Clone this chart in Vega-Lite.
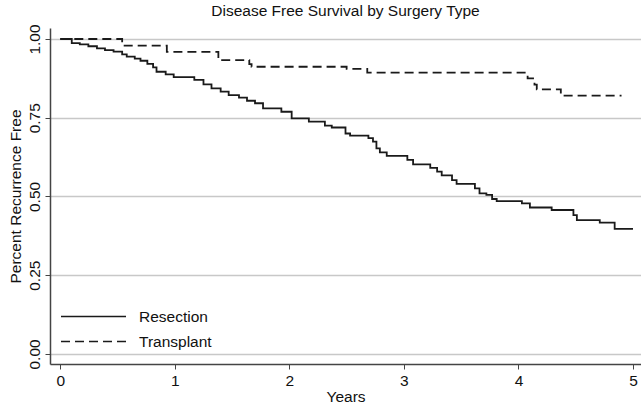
{
  "$schema": "https://vega.github.io/schema/vega-lite/v6.json",
  "width": 591,
  "height": 336,
  "autosize": {"type": "none"},
  "padding": {"left": 50, "top": 28, "right": 0, "bottom": 44},
  "background": "white",
  "title": {
    "text": "Disease Free Survival by Surgery Type",
    "font": "Liberation Sans",
    "fontSize": 15.5,
    "fontWeight": "normal",
    "color": "#111",
    "anchor": "middle",
    "offset": 4
  },
  "config": {
    "view": {"stroke": null},
    "font": "Liberation Sans"
  },
  "data": {
    "values": [
      {"series": "Resection", "t": 0, "s": 1.0},
      {"series": "Resection", "t": 0.10, "s": 0.987},
      {"series": "Resection", "t": 0.17, "s": 0.983},
      {"series": "Resection", "t": 0.245, "s": 0.977},
      {"series": "Resection", "t": 0.32, "s": 0.97},
      {"series": "Resection", "t": 0.39, "s": 0.965},
      {"series": "Resection", "t": 0.465, "s": 0.96},
      {"series": "Resection", "t": 0.54, "s": 0.951},
      {"series": "Resection", "t": 0.58, "s": 0.944},
      {"series": "Resection", "t": 0.65, "s": 0.938},
      {"series": "Resection", "t": 0.70, "s": 0.931},
      {"series": "Resection", "t": 0.76, "s": 0.921},
      {"series": "Resection", "t": 0.81, "s": 0.91},
      {"series": "Resection", "t": 0.84, "s": 0.896},
      {"series": "Resection", "t": 0.92, "s": 0.888},
      {"series": "Resection", "t": 0.99, "s": 0.879},
      {"series": "Resection", "t": 1.17, "s": 0.87},
      {"series": "Resection", "t": 1.25, "s": 0.856},
      {"series": "Resection", "t": 1.32, "s": 0.843},
      {"series": "Resection", "t": 1.40, "s": 0.833},
      {"series": "Resection", "t": 1.47, "s": 0.822},
      {"series": "Resection", "t": 1.56, "s": 0.814},
      {"series": "Resection", "t": 1.63, "s": 0.804},
      {"series": "Resection", "t": 1.70, "s": 0.796},
      {"series": "Resection", "t": 1.77, "s": 0.78},
      {"series": "Resection", "t": 1.93, "s": 0.769},
      {"series": "Resection", "t": 2.02, "s": 0.748},
      {"series": "Resection", "t": 2.17, "s": 0.738},
      {"series": "Resection", "t": 2.31, "s": 0.725},
      {"series": "Resection", "t": 2.37, "s": 0.719},
      {"series": "Resection", "t": 2.49, "s": 0.70},
      {"series": "Resection", "t": 2.53, "s": 0.693},
      {"series": "Resection", "t": 2.69, "s": 0.685},
      {"series": "Resection", "t": 2.73, "s": 0.674},
      {"series": "Resection", "t": 2.76, "s": 0.653},
      {"series": "Resection", "t": 2.79, "s": 0.64},
      {"series": "Resection", "t": 2.85, "s": 0.629},
      {"series": "Resection", "t": 3.03, "s": 0.616},
      {"series": "Resection", "t": 3.08, "s": 0.602},
      {"series": "Resection", "t": 3.23, "s": 0.591},
      {"series": "Resection", "t": 3.29, "s": 0.579},
      {"series": "Resection", "t": 3.33, "s": 0.567},
      {"series": "Resection", "t": 3.42, "s": 0.552},
      {"series": "Resection", "t": 3.46, "s": 0.54},
      {"series": "Resection", "t": 3.62, "s": 0.526},
      {"series": "Resection", "t": 3.66, "s": 0.51},
      {"series": "Resection", "t": 3.72, "s": 0.505},
      {"series": "Resection", "t": 3.77, "s": 0.492},
      {"series": "Resection", "t": 3.81, "s": 0.485},
      {"series": "Resection", "t": 4.03, "s": 0.478},
      {"series": "Resection", "t": 4.10, "s": 0.465},
      {"series": "Resection", "t": 4.29, "s": 0.457},
      {"series": "Resection", "t": 4.48, "s": 0.441},
      {"series": "Resection", "t": 4.51, "s": 0.425},
      {"series": "Resection", "t": 4.71, "s": 0.417},
      {"series": "Resection", "t": 4.84, "s": 0.397},
      {"series": "Resection", "t": 5.00, "s": 0.397},
      {"series": "Transplant", "t": 0, "s": 1.0},
      {"series": "Transplant", "t": 0.54, "s": 0.979},
      {"series": "Transplant", "t": 0.93, "s": 0.959},
      {"series": "Transplant", "t": 1.38, "s": 0.933},
      {"series": "Transplant", "t": 1.65, "s": 0.92},
      {"series": "Transplant", "t": 1.67, "s": 0.912},
      {"series": "Transplant", "t": 2.50, "s": 0.905},
      {"series": "Transplant", "t": 2.68, "s": 0.893},
      {"series": "Transplant", "t": 4.08, "s": 0.875},
      {"series": "Transplant", "t": 4.14, "s": 0.855},
      {"series": "Transplant", "t": 4.16, "s": 0.84},
      {"series": "Transplant", "t": 4.37, "s": 0.82},
      {"series": "Transplant", "t": 4.90, "s": 0.82}
    ]
  },
  "mark": {"type": "line", "interpolate": "step-after", "color": "#1a1a1a", "strokeWidth": 1.8},
  "encoding": {
    "x": {
      "field": "t",
      "type": "quantitative",
      "scale": {"domain": [-0.09, 5.07], "nice": false, "zero": false},
      "axis": {
        "title": "Years",
        "values": [0, 1, 2, 3, 4, 5],
        "format": "d",
        "grid": false,
        "domainColor": "#444",
        "domainWidth": 1.5,
        "tickColor": "#444",
        "tickWidth": 1,
        "tickSize": 5,
        "labelFont": "Liberation Sans",
        "labelFontSize": 15.5,
        "labelColor": "#111",
        "labelPadding": 4,
        "titleFont": "Liberation Sans",
        "titleFontSize": 15.5,
        "titleFontWeight": "normal",
        "titleColor": "#111",
        "titlePadding": 1
      }
    },
    "y": {
      "field": "s",
      "type": "quantitative",
      "scale": {"domain": [-0.032, 1.035], "nice": false, "zero": false},
      "axis": {
        "title": "Percent Recurrence Free",
        "values": [0, 0.25, 0.5, 0.75, 1],
        "format": ".2f",
        "grid": true,
        "gridColor": "#c8c8c8",
        "gridWidth": 1.5,
        "domainColor": "#444",
        "domainWidth": 1.5,
        "tickColor": "#444",
        "tickWidth": 1,
        "tickSize": 5,
        "labelAngle": -90,
        "labelAlign": "center",
        "labelBaseline": "bottom",
        "labelFont": "Liberation Sans",
        "labelFontSize": 15.5,
        "labelColor": "#111",
        "labelPadding": 3,
        "titleFont": "Liberation Sans",
        "titleFontSize": 15.5,
        "titleFontWeight": "normal",
        "titleColor": "#111",
        "titlePadding": 4
      }
    },
    "strokeDash": {
      "field": "series",
      "type": "nominal",
      "scale": {"domain": ["Resection", "Transplant"], "range": [[1, 0], [9, 5]]},
      "legend": {
        "title": null,
        "orient": "none",
        "legendX": 10,
        "legendY": 276,
        "padding": 0,
        "symbolType": "stroke",
        "symbolSize": 4225,
        "symbolStrokeWidth": 1.6,
        "symbolStrokeColor": "#1a1a1a",
        "labelFont": "Liberation Sans",
        "labelFontSize": 15.5,
        "labelColor": "#111",
        "labelOffset": 12,
        "clipHeight": 25,
        "rowPadding": 0
      }
    }
  }
}
